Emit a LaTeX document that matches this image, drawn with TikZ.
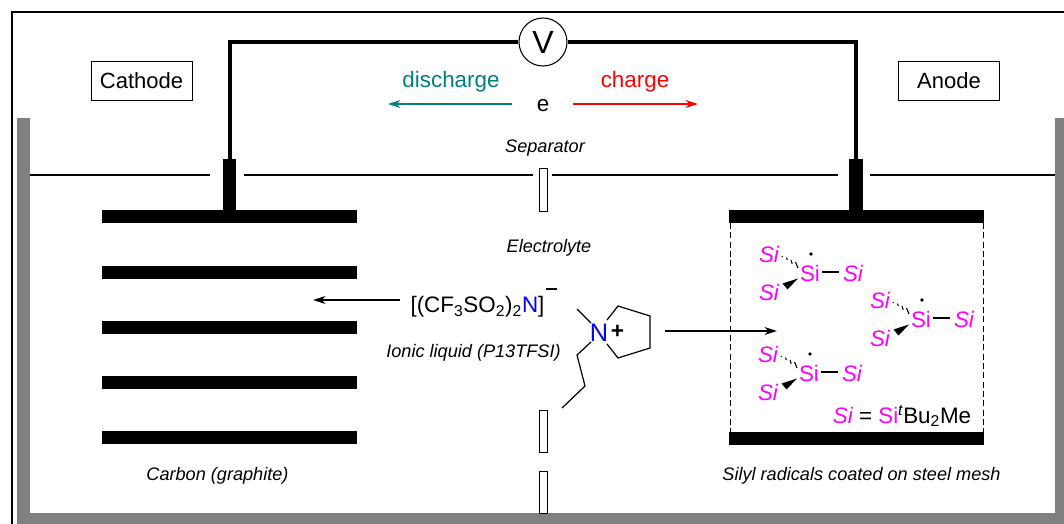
\documentclass[tikz,border=0pt]{standalone}
\usepackage{fontspec}
\setmainfont{Liberation Sans}
\usepackage{tikz}
\usetikzlibrary{arrows.meta}
\definecolor{wall}{HTML}{808080}
\definecolor{discol}{HTML}{008080}
\definecolor{simag}{HTML}{FF00FF}
\definecolor{nblue}{HTML}{0000FF}
\tikzset{
	label/.style={inner sep=0pt,font=\fontsize{16.8}{18}\selectfont},
	small/.style={inner sep=0pt,font=\fontsize{13.6}{15}\selectfont\itshape},
	elec/.style={draw,line width=0.6pt,inner sep=0pt,minimum width=75.75pt,minimum height=29.25pt,font=\fontsize{16.5}{18}\selectfont},
	wire/.style={line width=3pt},
	sepline/.style={line width=1.2pt},
	bond/.style={line width=0.9pt},
	flow/.style={line width=1.1pt,-{Stealth[length=9.5pt,width=6pt]}},
	septab/.style={draw,fill=white,line width=0.6pt},
	si/.style={inner sep=0pt,text=simag,font=\fontsize{16.8}{18}\selectfont},
}
\begin{document}
\begin{tikzpicture}[x=0.75pt,y=-0.75pt]
\useasboundingbox (0,0) rectangle (1064,524);
		% frame and cell walls
		\draw[line width=1.5pt] (1064,12) -- (12,12) -- (12,524);
		\fill[wall] (17,118) rectangle (30,524);
		\fill[wall] (17,513) rectangle (1064,524);
		\fill[wall] (1055,118) rectangle (1064,524);
		% electrolyte level
		\coordinate (A) at (30,175);
		\coordinate (B) at (210,175);
		\coordinate (C) at (244,175);
		\coordinate (D) at (533,175);
		\coordinate (E) at (552,175);
		\coordinate (F) at (838,175);
		\coordinate (G) at (870,175);
		\coordinate (H) at (1055,175);
		\draw[sepline] (A) -- (B);
		\draw[sepline] (C) -- (D);
		\draw[sepline] (E) -- (F);
		\draw[sepline] (G) -- (H);
		% separator
		\draw[septab] (539,168) rectangle (547,211);
		\draw[septab] (539,410) rectangle (547,452);
		\draw[septab] (539,471) rectangle (547,513);
		% cathode
		\fill (102,210) rectangle (357,223);
		\fill (102,265.5) rectangle (357,278.5);
		\fill (102,320.5) rectangle (357,333.5);
		\fill (102,375.5) rectangle (357,388.5);
		\fill (102,431) rectangle (357,444);
		\fill (223,159) rectangle (236,210);
		% anode
		\fill (729,210) rectangle (984,223);
		\fill (729,432) rectangle (984,445);
		\fill (849,159) rectangle (863,210);
		\draw[line width=0.7pt,dash pattern=on 4.5pt off 2.5pt] (730,223) -- (730,432);
		\draw[line width=0.7pt,dash pattern=on 4.5pt off 2.5pt] (983,223) -- (983,432);
		% circuit
		\node[draw,circle,line width=0.8pt,inner sep=0pt,minimum size=36pt,font=\fontsize{24}{26}\selectfont] (V) at (543,42) {V};
		\coordinate (L1) at (230,160);
		\coordinate (L2) at (230,42);
		\coordinate (R1) at (856,160);
		\coordinate (R2) at (856,42);
		\draw[wire] (V) -- (L2) -- (L1);
		\draw[wire] (V) -- (R2) -- (R1);
		\node[elec] (cathode) at (141.5,80.5) {Cathode};
		\node[elec] (anode) at (949,80.5) {Anode};
		% electron flow
		\node[label] (e) at (543,105.5) {e};
		\node[label,text=discol] (discharge) at (451,81.5) {discharge};
		\node[label,text=red] (charge) at (635,81.5) {charge};
		\coordinate (DL) at (512,104);
		\coordinate (DR) at (388,104);
		\coordinate (CL) at (573,104);
		\coordinate (CR) at (698,104);
		\draw[flow,discol] (DL) -- (DR);
		\draw[flow,red] (CL) -- (CR);
		\node[small] (separator) at (545,148) {Separator};
		\node[small] (electrolyte) at (549,247.5) {Electrolyte};
		\node[small] (graphite) at (217.5,475.5) {Carbon (graphite)};
		\node[small] (mesh) at (861.5,475.5) {Silyl radicals coated on steel mesh};
		\node[small] (ionic) at (473.5,352.5) {Ionic liquid (P13TFSI)};
		% anion
		\node[label] (anion) at (477.5,307) {[(CF\textsubscript{3}SO\textsubscript{2})\textsubscript{2}{\color{nblue}N}]};
		\coordinate (M1) at (546,289);
		\coordinate (M2) at (557,289);
		\draw[line width=1.4pt] (M1) -- (M2);
		\coordinate (T1) at (400,300);
		\coordinate (T2) at (313,300);
		\draw[flow,black] (T1) -- (T2);
		% cation
		\node[label,text=nblue,font=\fontsize{19}{21}\selectfont] (N) at (599,333) {N};
		\node[inner sep=0pt,font=\fontsize{17}{18}\selectfont\bfseries] (plus) at (617.5,332) {+};
		\coordinate (P1) at (607,320);
		\coordinate (P2) at (618,306);
		\coordinate (P3) at (650,316);
		\coordinate (P4) at (650,348);
		\coordinate (P5) at (618,358);
		\coordinate (P6) at (607,344);
		\draw[bond] (P1) -- (P2) -- (P3) -- (P4) -- (P5) -- (P6);
		\coordinate (Q1) at (591,323);
		\coordinate (Q2) at (577,309);
		\draw[bond] (Q1) -- (Q2);
		\coordinate (Q3) at (591,342);
		\coordinate (Q4) at (577,355);
		\coordinate (Q5) at (585,386);
		\coordinate (Q6) at (562,408);
		\draw[bond] (Q3) -- (Q4) -- (Q5) -- (Q6);
		\coordinate (T3) at (665,331);
		\coordinate (T4) at (777,331);
		\draw[flow,black] (T3) -- (T4);
		% silyl radicals
		\foreach \gx/\gy/\gn in {810/273/a,921/319/b,809/373/c}{
		\begin{scope}[shift={(\gx,\gy)}]
			\node[si] (si\gn) at (0,0) {Si};
			\node[si] (top\gn) at (-41,-19) {\itshape Si};
			\node[si] (low\gn) at (-41,19) {\itshape Si};
			\node[si] (right\gn) at (43,0) {\itshape Si};
			\coordinate (S1) at (12,-1);
			\coordinate (S2) at (29,-1);
			\draw[bond] (S1) -- (S2);
			\fill (1,-19) circle (1.9);
			\draw[line width=0.8pt] (-28,-17) -- +(0.5,1);
			\draw[line width=0.8pt] (-23.5,-15.5) -- +(0.8,2.5);
			\draw[line width=0.8pt] (-19,-13) -- +(1.2,3.8);
			\draw[line width=0.8pt] (-14.5,-11) -- +(2.5,6);
			\fill (-12,5.5) -- (-27.5,10.5) -- (-22.5,16.5) -- cycle;
		\end{scope}
		}
		\node[label,text=black] (legend) at (902,416) {{\color{simag}\itshape Si} = {\color{simag}Si}\textsuperscript{\itshape t}Bu\textsubscript{2}Me};
\end{tikzpicture}
\end{document}
